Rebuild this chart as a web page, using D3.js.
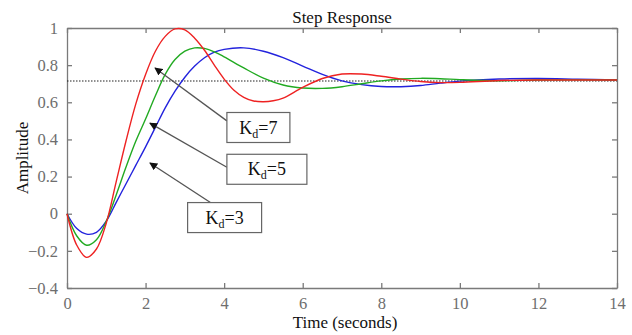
<!DOCTYPE html>
<html>
<head>
<meta charset="utf-8">
<script src="https://cdn.jsdelivr.net/npm/d3@7"></script>
<style>
  body { margin: 0; background: #fff; }
  svg text { font-family: "Liberation Serif", "Times New Roman", serif; }
</style>
</head>
<body>
<svg id="chart" width="632" height="335"></svg>
<script>
// time samples (seconds) and responses
var tRed   = [0, 0.25, 0.5, 0.75, 1.0, 1.25, 1.5, 1.75, 2.0, 2.25, 2.5, 2.75, 3.0, 3.25, 3.5, 3.75, 4.0, 4.25, 4.5, 4.75, 5.0, 5.25, 5.5, 6.0, 6.5, 7.0, 7.5, 8.0, 8.5, 9.0, 9.5, 10, 11, 12, 13, 14];
var kd7    = [0, -0.17, -0.235, -0.19, -0.05, 0.17, 0.39, 0.59, 0.75, 0.875, 0.955, 0.995, 0.99, 0.945, 0.88, 0.80, 0.725, 0.665, 0.627, 0.607, 0.603, 0.608, 0.622, 0.68, 0.728, 0.752, 0.752, 0.74, 0.725, 0.712, 0.706, 0.707, 0.717, 0.72, 0.72, 0.72];

var tGreen = [0, 0.25, 0.5, 0.75, 1.0, 1.25, 1.5, 1.75, 2.0, 2.25, 2.5, 2.75, 3.0, 3.25, 3.5, 3.75, 4.0, 4.5, 5.0, 5.5, 6.0, 6.5, 7.0, 7.5, 8.0, 8.5, 9.0, 9.5, 10, 11, 12, 14];
var kd5    = [0, -0.12, -0.17, -0.14, -0.04, 0.10, 0.25, 0.39, 0.51, 0.635, 0.75, 0.83, 0.875, 0.893, 0.89, 0.872, 0.845, 0.785, 0.73, 0.693, 0.677, 0.675, 0.684, 0.70, 0.715, 0.725, 0.729, 0.727, 0.722, 0.716, 0.72, 0.72];

var tBlue  = [0, 0.25, 0.5, 0.75, 1.0, 1.25, 1.5, 1.75, 2.0, 2.25, 2.5, 2.75, 3.0, 3.25, 3.5, 3.75, 4.0, 4.5, 5.0, 5.5, 6.0, 6.5, 7.0, 7.5, 8.0, 8.5, 9.0, 9.5, 10, 11, 12, 13, 14];
var kd3    = [0, -0.08, -0.11, -0.10, -0.04, 0.06, 0.16, 0.26, 0.36, 0.465, 0.57, 0.66, 0.735, 0.795, 0.84, 0.87, 0.885, 0.893, 0.875, 0.84, 0.795, 0.75, 0.715, 0.695, 0.685, 0.684, 0.69, 0.703, 0.714, 0.725, 0.728, 0.724, 0.72];

var finalValue = 0.715;

var xTicks = [0, 2, 4, 6, 8, 10, 12, 14];
var yTicks = [-0.4, -0.2, 0, 0.2, 0.4, 0.6, 0.8, 1];

var seriesNames  = ["7", "5", "3"];
var seriesColors = ["#ee2222", "#22aa22", "#2323dd"];

// annotation anchors in data units: arrow tip, arrow tail, box corner (left, top)
var notes = [
    { name: "7", tip: [2.24, 0.785], tail: [4.07, 0.50], box: [4.07, 0.545], w: 63 },
    { name: "5", tip: [2.11, 0.488], tail: [4.07, 0.25], box: [4.07, 0.32], w: 80 },
    { name: "3", tip: [2.11, 0.273], tail: [3.69, 0.055], box: [3.07, 0.06], w: 74 }
];

var svg = d3.select("#chart");
var margin = { left: 67, right: 15, top: 28, bottom: 47 };
var width = 632 - margin.left - margin.right;
var height = 335 - margin.top - margin.bottom;

var x = d3.scaleLinear().domain([0, 14]).range([0, width]);
var y = d3.scaleLinear().domain([-0.4, 1]).range([height, 0]);

var g = svg.append("g").attr("transform", "translate(" + margin.left + "," + margin.top + ")");

var axisColor = "#7a7a7a";
var tickFmt = function (d) { return d === 0 ? "0" : (Number.isInteger(d) ? d : d3.format(".1f")(d)); };

// axes with inward ticks (matlab style)
var xb = g.append("g").attr("transform", "translate(0," + height + ")")
    .call(d3.axisBottom(x).tickValues(xTicks).tickSizeInner(-5).tickSizeOuter(0).tickPadding(9).tickFormat(tickFmt));
var xt = g.append("g")
    .call(d3.axisTop(x).tickValues(xTicks).tickSizeInner(-5).tickSizeOuter(0).tickFormat(""));
var yl = g.append("g")
    .call(d3.axisLeft(y).tickValues(yTicks).tickSizeInner(-5).tickSizeOuter(0).tickPadding(9).tickFormat(tickFmt));
var yr = g.append("g").attr("transform", "translate(" + width + ",0)")
    .call(d3.axisRight(y).tickValues(yTicks).tickSizeInner(-5).tickSizeOuter(0).tickFormat(""));

[xb, xt, yl, yr].forEach(function (a) {
    a.selectAll("path, line").attr("stroke", axisColor).attr("stroke-width", 1.3);
    a.selectAll("text").attr("fill", "#6e6e6e").style("font-size", "16.5px")
        .style("font-family", "'Liberation Serif', serif");
});

// dotted steady-state line
g.append("line")
    .attr("x1", x(0)).attr("x2", x(14))
    .attr("y1", y(finalValue)).attr("y2", y(finalValue))
    .attr("stroke", "#222").attr("stroke-width", 1.1)
    .attr("stroke-dasharray", "1.5,1.5");

var line = d3.line()
    .x(function (d) { return x(d[0]); })
    .y(function (d) { return y(d[1]); })
    .curve(d3.curveCatmullRom.alpha(0.5));

var series = [d3.zip(tRed, kd7), d3.zip(tGreen, kd5), d3.zip(tBlue, kd3)];

// draw blue first so red ends up on top
[2, 1, 0].forEach(function (i) {
    g.append("path")
        .datum(series[i])
        .attr("fill", "none")
        .attr("stroke", seriesColors[i])
        .attr("stroke-width", 1.4)
        .attr("d", line);
});

// arrow marker
svg.append("defs").append("marker")
    .attr("id", "head")
    .attr("viewBox", "0 0 10 10")
    .attr("refX", 9).attr("refY", 5)
    .attr("markerWidth", 8).attr("markerHeight", 8)
    .attr("markerUnits", "userSpaceOnUse")
    .attr("orient", "auto")
    .append("path").attr("d", "M0,0 L10,5 L0,10 z").attr("fill", "#111");

notes.forEach(function (n) {
    g.append("line")
        .attr("x1", x(n.tail[0])).attr("y1", y(n.tail[1]))
        .attr("x2", x(n.tip[0])).attr("y2", y(n.tip[1]))
        .attr("stroke", "#555").attr("stroke-width", 1.3)
        .attr("marker-end", "url(#head)");

    var bx = x(n.box[0]), by = y(n.box[1]);
    g.append("rect")
        .attr("x", bx).attr("y", by)
        .attr("width", n.w).attr("height", 30)
        .attr("fill", "#fff").attr("stroke", "#666").attr("stroke-width", 1.2);

    var t = g.append("text")
        .attr("x", bx + n.w / 2).attr("y", by + 21)
        .attr("text-anchor", "middle")
        .attr("fill", "#111")
        .style("font-size", "18px");
    t.append("tspan").text("K");
    t.append("tspan").attr("dy", 4).style("font-size", "12px").text("d");
    t.append("tspan").attr("dy", -4).text("=" + n.name);
});

// titles
svg.append("text")
    .attr("x", margin.left + width / 2).attr("y", 23)
    .attr("text-anchor", "middle").attr("fill", "#111")
    .style("font-size", "17px")
    .text("Step Response");

svg.append("text")
    .attr("x", margin.left + width / 2 + 3).attr("y", 328)
    .attr("text-anchor", "middle").attr("fill", "#111")
    .style("font-size", "17px")
    .text("Time (seconds)");

svg.append("text")
    .attr("transform", "translate(28," + (margin.top + height / 2) + ") rotate(-90)")
    .attr("text-anchor", "middle").attr("fill", "#111")
    .style("font-size", "17px")
    .text("Amplitude");
</script>
</body>
</html>
